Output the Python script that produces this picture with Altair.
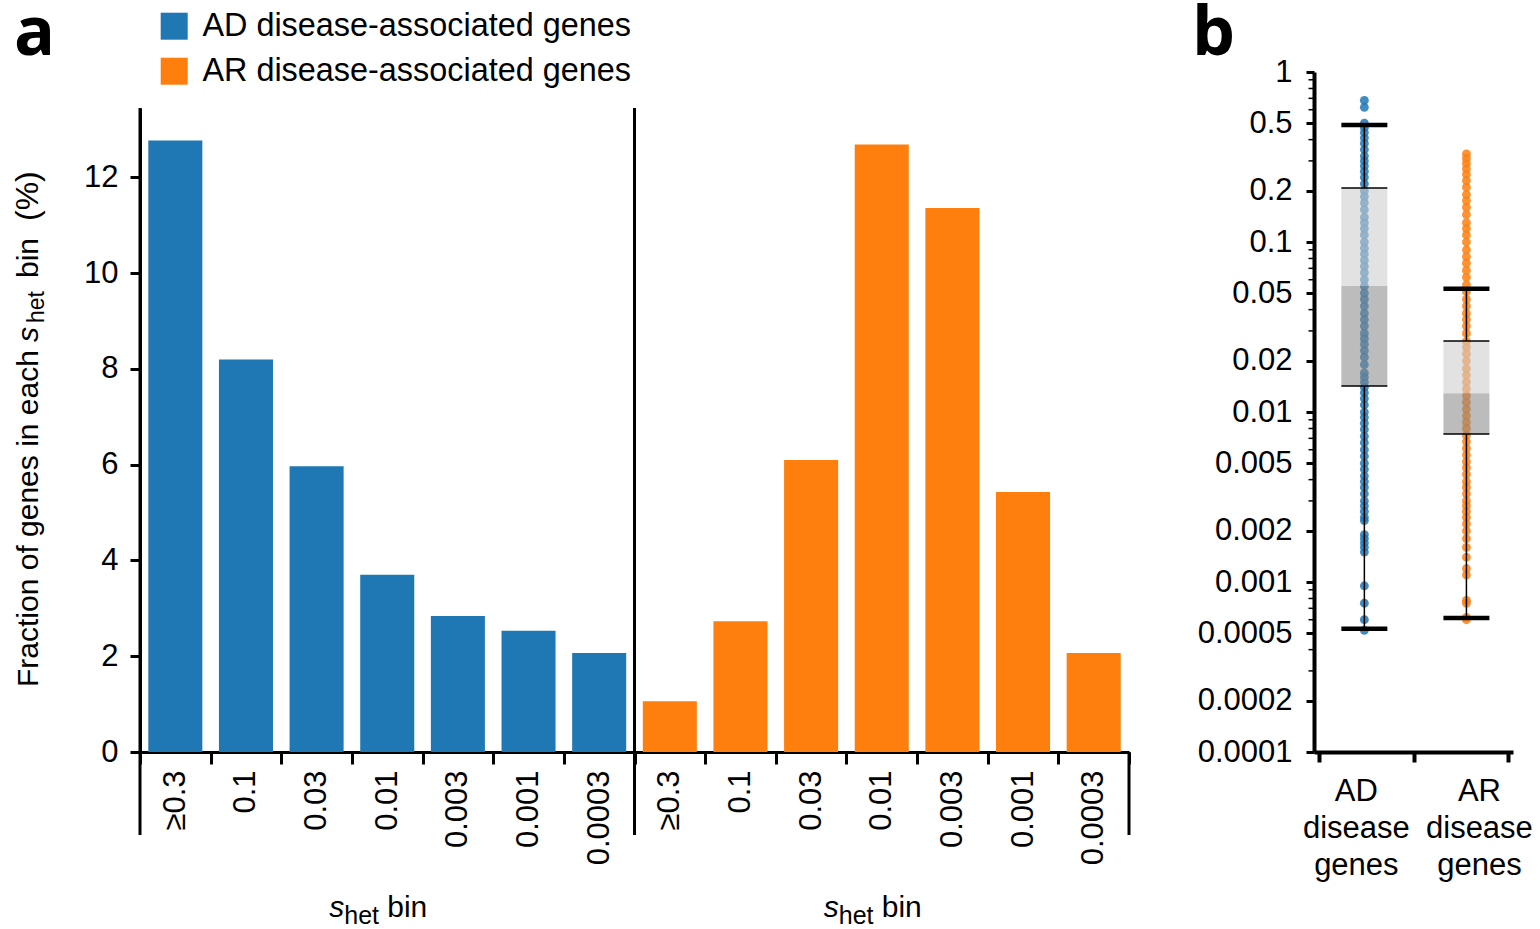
import altair as alt
import pandas as pd

FONT = "Liberation Sans"
LABEL_FONT = "Open Sans"

# ---------- panel a: fraction of genes per s_het bin ----------
bins = ["≥0.3", "0.1", "0.03", "0.01", "0.003", "0.001", "0.0003"]
ad_pct = [12.77, 8.20, 5.97, 3.70, 2.84, 2.53, 2.07]
ar_pct = [1.06, 2.73, 6.10, 12.69, 11.36, 5.43, 2.07]
series_names = ["AD disease-associated genes", "AR disease-associated genes"]
series_colors = ["#1f77b4", "#ff7f0e"]
y_ticks_a = [0, 2, 4, 6, 8, 10, 12]

# ---------- panel b: s_het of individual disease genes ----------
groups = ["AD", "AR"]
ad_shet = [0.68, 0.62, 0.50, 0.47, 0.44, 0.41, 0.38, 0.35, 0.32, 0.30, 0.28,
           0.26, 0.24, 0.22, 0.20, 0.185, 0.17, 0.155, 0.14, 0.13, 0.12, 0.11,
           0.10, 0.092, 0.085, 0.078, 0.072, 0.066, 0.060, 0.055, 0.050, 0.046,
           0.042, 0.038, 0.035, 0.032, 0.029, 0.027, 0.025, 0.023, 0.021, 0.019,
           0.017, 0.016, 0.015, 0.014, 0.013, 0.012, 0.011, 0.010, 0.0093,
           0.0086, 0.0079, 0.0072, 0.0066, 0.0060, 0.0055, 0.0050, 0.0046,
           0.0042, 0.0039, 0.0036, 0.0033, 0.0030, 0.0028, 0.0026, 0.0024,
           0.0023, 0.0019, 0.0018, 0.0017, 0.0016, 0.0015, 0.00095, 0.00075,
           0.00060, 0.00052]
ar_shet = [0.33, 0.31, 0.29, 0.27, 0.25, 0.23, 0.21, 0.19, 0.175, 0.16, 0.145,
           0.13, 0.12, 0.11, 0.10, 0.090, 0.082, 0.075, 0.068, 0.062, 0.056,
           0.051, 0.046, 0.042, 0.038, 0.035, 0.032, 0.029, 0.026, 0.024,
           0.022, 0.020, 0.018, 0.0165, 0.015, 0.0137, 0.0125, 0.0114, 0.0104,
           0.0095, 0.0087, 0.0080, 0.0073, 0.0067, 0.0061, 0.0056, 0.0051,
           0.0047, 0.0043, 0.0039, 0.0036, 0.0033, 0.0030, 0.0028, 0.0026,
           0.0024, 0.0022, 0.0020, 0.0018, 0.0016, 0.0014, 0.0012, 0.0011,
           0.00078, 0.00075, 0.00062, 0.00060]
whisker_low = [0.00053, 0.000614]
box_low = [0.0142, 0.00743]
box_mid = [0.0551, 0.0129]
box_high = [0.208, 0.0262]
whisker_high = [0.488, 0.053]
y_ticks_b = [1, 0.5, 0.2, 0.1, 0.05, 0.02, 0.01, 0.005, 0.002, 0.001,
             0.0005, 0.0002, 0.0001]
y_minor_b = [m * 10.0 ** e for e in (-4, -3, -2, -1) for m in (3, 4, 6, 7, 8, 9)]

# ---------------------------------------------------------------------------
W_A, H_A = 989, 644
W_B = 199
B_TOP = -36          # panel b's axis starts above the shared plot top
# where each group's column sits on panel b's 0..2 category axis
group_slot = {"AD": 0.48, "AR": 1.56}

keys = [f"AD|{b}" for b in bins] + [f"AR|{b}" for b in bins]
bars = pd.DataFrame({
    "key": keys,
    "pct": ad_pct + ar_pct,
    "series": [series_names[0]] * len(bins) + [series_names[1]] * len(bins),
})

x_axis_a = alt.Axis(
    title=None, labelExpr="split(datum.value, '|')[1]", labelAngle=270,
    labelFontSize=31, labelPadding=6, tickBand="extent", tickSize=12,
    tickWidth=3, domainWidth=3,
)
x_scale_a = alt.Scale(paddingInner=0, paddingOuter=0)


def xa(**kw):
    return alt.X("key:N", sort=keys, scale=x_scale_a, axis=x_axis_a, **kw)


y_a = alt.Y(
    "pct:Q", scale=alt.Scale(domain=[0, 13.45], nice=False),
    axis=alt.Axis(title=None, values=y_ticks_a, labelFontSize=31,
                  labelPadding=12, tickSize=10, tickWidth=3, domainWidth=3),
)

bar_layer = alt.Chart(bars).mark_bar(width=alt.RelativeBandSize(0.765)).encode(
    x=xa(),
    y=y_a,
    color=alt.Color(
        "series:N",
        scale=alt.Scale(domain=series_names, range=series_colors),
        legend=alt.Legend(
            orient="none", legendX=18, legendY=-98, title=None,
            symbolType="square", symbolSize=729, symbolStrokeWidth=0,
            symbolOpacity=1, labelFontSize=32.4, labelFont=FONT,
            labelColor="black", labelLimit=0, rowPadding=12, labelOffset=12,
            padding=0,
        ),
    ),
)

# frame lines that run below the x axis
long_rules = alt.Chart(pd.DataFrame({"key": ["AD|≥0.3", "AR|≥0.3"]})).mark_rule(
    color="black", strokeWidth=3
).encode(x=xa(bandPosition=0), y=alt.value(0), y2=alt.value(H_A + 83))
end_rule = alt.Chart(pd.DataFrame({"key": ["AR|0.0003"]})).mark_rule(
    color="black", strokeWidth=3
).encode(x=xa(bandPosition=1), y=alt.value(H_A), y2=alt.value(H_A + 83))

# x titles "s_het bin" under each group, centred on the middle bin
mid_keys = pd.DataFrame({"key": ["AD|0.01", "AR|0.01"]})
xt_s = alt.Chart(mid_keys).mark_text(
    text="s", font=FONT, fontSize=30, fontStyle="italic", align="left",
    baseline="alphabetic", dx=-58, color="black"
).encode(x=xa(), y=alt.value(H_A + 165))
xt_het = alt.Chart(mid_keys).mark_text(
    text="het", font=FONT, fontSize=25, align="left",
    baseline="alphabetic", dx=-43, color="black"
).encode(x=xa(), y=alt.value(H_A + 172))
xt_bin = alt.Chart(mid_keys).mark_text(
    text="bin", font=FONT, fontSize=30, align="left",
    baseline="alphabetic", dx=0, color="black"
).encode(x=xa(), y=alt.value(H_A + 165))

# rotated y title with italic s and subscript "het"
one = pd.DataFrame({"k": [0]})


def ytitle(text, y, x=-102, size=30, style="normal"):
    return alt.Chart(one).mark_text(
        text=text, font=FONT, fontSize=size, fontStyle=style, angle=270,
        align="left", baseline="alphabetic", color="black"
    ).encode(x=alt.value(x), y=alt.value(y))


yt = (ytitle("Fraction of genes in each", 579)
      + ytitle("s", 234, style="italic")
      + ytitle("het", 215, x=-96, size=23)
      + ytitle("bin", 170)
      + ytitle("(%)", 113, size=32))

label_a = alt.Chart(one).mark_text(
    text="a", font=LABEL_FONT, fontSize=68, fontWeight="bold", align="left",
    baseline="alphabetic", color="black"
).encode(x=alt.value(-126), y=alt.value(-53))

panel_a = alt.layer(
    bar_layer, long_rules, end_rule, xt_s, xt_het, xt_bin, yt, label_a
).properties(width=W_A, height=H_A)

# ---------------------------------------------------------------------------
pts = pd.DataFrame({
    "group": ["AD"] * len(ad_shet) + ["AR"] * len(ar_shet),
    "v": ad_shet + ar_shet,
})
pts["slot"] = pts["group"].map(group_slot)
box = pd.DataFrame({
    "group": groups, "wlo": whisker_low, "blo": box_low, "bmid": box_mid,
    "bhi": box_high, "whi": whisker_high,
})
box["slot"] = box["group"].map(group_slot)
names_b = pd.DataFrame({
    "group": groups,
    "name": [f"{g}\ndisease\ngenes" for g in groups],
})
names_b["slot"] = names_b["group"].map(group_slot)

x_axis_b = alt.Axis(
    title=None, labels=False, values=[0, 1, 2], tickSize=10,
    tickWidth=4, domainWidth=4,
)
x_scale_b = alt.Scale(domain=[0, 2], nice=False, zero=False)


def xb():
    return alt.X("slot:Q", scale=x_scale_b, axis=x_axis_b)


y_axis_b = alt.Axis(
    title=None, values=y_ticks_b, labelExpr="'' + datum.value",
    labelFontSize=31, labelPadding=14, tickSize=8, tickWidth=3,
    domainWidth=4,
)
y_scale_b = alt.Scale(type="log", domain=[0.0001, 1], nice=False,
                      range=[H_A, B_TOP])


def yb(field):
    return alt.Y(f"{field}:Q", scale=y_scale_b, axis=y_axis_b)


points = alt.Chart(pts).mark_circle(size=78, opacity=0.85).encode(
    x=xb(), y=yb("v"),
    color=alt.Color("group:N", scale=alt.Scale(domain=groups,
                                               range=series_colors),
                    legend=None),
)
whisk_hi = alt.Chart(box).mark_rule(color="black", strokeWidth=1.5).encode(
    x=xb(), y=yb("bhi"), y2="whi")
whisk_lo = alt.Chart(box).mark_rule(color="black", strokeWidth=1.5).encode(
    x=xb(), y=yb("wlo"), y2="blo")
box_dark = alt.Chart(box).mark_bar(width=46, color="#888888",
                                   opacity=0.56).encode(
    x=xb(), y=yb("blo"), y2="bmid")
box_light = alt.Chart(box).mark_bar(width=46, color="#cfcfcf",
                                    opacity=0.6).encode(
    x=xb(), y=yb("bmid"), y2="bhi")
box_edges = alt.Chart(box).transform_fold(
    ["blo", "bhi"], as_=["edge", "e"]
).mark_tick(orient="horizontal", size=46, thickness=1.5, color="black",
            opacity=1).encode(x=xb(), y=yb("e"))
caps = alt.Chart(box).transform_fold(
    ["wlo", "whi"], as_=["end", "c"]
).mark_tick(orient="horizontal", size=46, thickness=4.5, color="black",
            opacity=1).encode(x=xb(), y=yb("c"))
minor = alt.Chart(pd.DataFrame({"m": y_minor_b})).mark_tick(
    orient="horizontal", size=5, thickness=1.5, color="black", opacity=1
).encode(x=alt.value(-3), y=yb("m"))


def group_names(g, dx):
    return alt.Chart(names_b).transform_filter(
        f"datum.group === '{g}'"
    ).mark_text(
        font=FONT, fontSize=31, lineBreak="\n", lineHeight=37,
        baseline="top", align="center", dx=dx, color="black"
    ).encode(x=xb(), y=alt.value(H_A + 25), text="name:N")


label_b = alt.Chart(one).mark_text(
    text="b", font=LABEL_FONT, fontSize=68, fontWeight="bold", align="left",
    baseline="alphabetic", color="black"
).encode(x=alt.value(-122), y=alt.value(-53))

panel_b = alt.layer(
    points, whisk_hi, whisk_lo, box_dark, box_light, box_edges, caps, minor,
    group_names("AD", -8), group_names("AR", 13), label_b
).properties(width=W_B, height=H_A)

chart = alt.hconcat(panel_a, panel_b, spacing=61).resolve_scale(
    color="independent"
).properties(
    padding={"left": 12, "top": 1, "right": 0, "bottom": 0}
)
chart = chart.configure(font=FONT).configure_axis(
    labelFont=FONT, labelColor="black", tickColor="black",
    domainColor="black", grid=False,
).configure_view(stroke=None)

chart.save("out.html", embed_options={"renderer": "svg", "actions": False})
